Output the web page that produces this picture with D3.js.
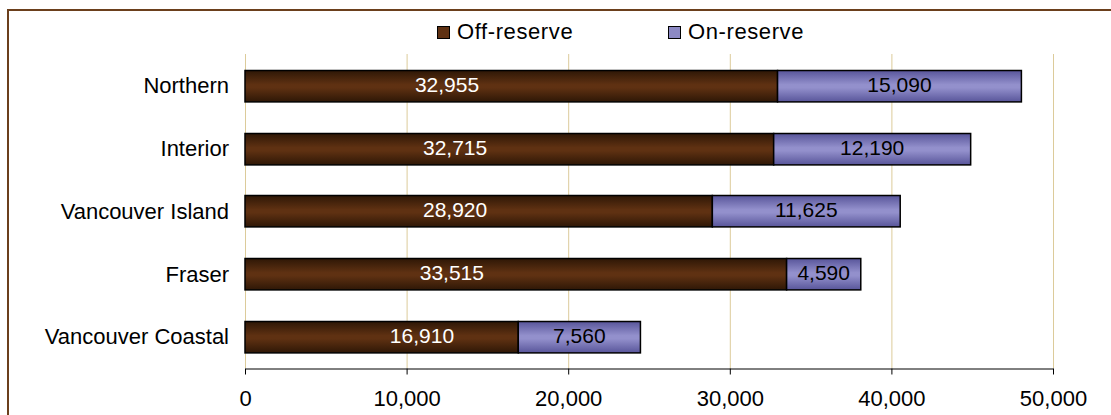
<!DOCTYPE html>
<html><head><meta charset="utf-8">
<script src="https://cdn.jsdelivr.net/npm/d3@7"></script>
<style>html,body{margin:0;padding:0;background:#fff;}svg{display:block;font-family:"Liberation Sans",Arial,sans-serif;}</style>
</head><body>
<svg id="chart" width="1111" height="415"></svg>
<script>
const categories = ["Northern", "Interior", "Vancouver Island", "Fraser", "Vancouver Coastal"];
const offReserve = [32955, 32715, 28920, 33515, 16910];
const onReserve = [15090, 12190, 11625, 4590, 7560];
const seriesNames = ["Off-reserve", "On-reserve"];
const xTicks = [0, 10000, 20000, 30000, 40000, 50000];

const svg = d3.select("#chart");
const m = {left: 245, top: 54};
const x = d3.scaleLinear().domain([0, 50000]).range([m.left, 1053]);
const y = d3.scaleBand().domain(categories).range([m.top, 368]).paddingInner(0.5).paddingOuter(0.25);

const defs = svg.append("defs");
function grad(id, edge, mid) {
  const g = defs.append("linearGradient").attr("id", id).attr("x1", 0).attr("y1", 0).attr("x2", 0).attr("y2", 1);
  g.append("stop").attr("offset", "0%").attr("stop-color", edge);
  g.append("stop").attr("offset", "45%").attr("stop-color", mid);
  g.append("stop").attr("offset", "55%").attr("stop-color", mid);
  g.append("stop").attr("offset", "100%").attr("stop-color", edge);
}
grad("gOff", "#2e1706", "#5f3112");
grad("gOn", "#58559a", "#9390cc");

// outer frame
svg.append("rect").attr("x", 8).attr("y", 10).attr("width", 1120).attr("height", 420)
  .attr("fill", "none").attr("stroke", "#6b3f1c").attr("stroke-width", 2);

// gridlines
svg.append("g").selectAll("line").data(xTicks).join("line")
  .attr("x1", d => x(d) + 0.5).attr("x2", d => x(d) + 0.5)
  .attr("y1", m.top).attr("y2", 368)
  .attr("stroke", "#dccb9a").attr("stroke-width", 1);

// axis
const ax = svg.append("g").attr("transform", "translate(0,368.5)")
  .call(d3.axisBottom(x).tickValues(xTicks).tickFormat(d3.format(",")).tickSize(6).tickSizeOuter(0));
ax.select(".domain").attr("stroke", "#000");
ax.selectAll(".tick line").attr("stroke", "#000");
ax.selectAll(".tick text").attr("font-size", 22).attr("fill", "#000").attr("y", 18).attr("dy", "0.9em")
  .style("font-family", "Liberation Sans, Arial, sans-serif");

// category labels
svg.append("g").selectAll("text").data(categories).join("text")
  .attr("x", 229).attr("y", d => y(d) + y.bandwidth() / 2)
  .attr("dy", "0.35em").attr("text-anchor", "end").attr("font-size", 22).attr("fill", "#000")
  .text(d => d);

const bars = svg.append("g");
const bh = y.bandwidth();
bars.selectAll("rect.off").data(categories).join("rect").attr("class", "off")
  .attr("x", x(0)).attr("y", d => Math.round(y(d)) + 0.5)
  .attr("width", (d, i) => x(offReserve[i]) - x(0)).attr("height", bh)
  .attr("fill", "url(#gOff)").attr("stroke", "#000").attr("stroke-width", 1.5);
bars.selectAll("rect.on").data(categories).join("rect").attr("class", "on")
  .attr("x", (d, i) => x(offReserve[i])).attr("y", d => Math.round(y(d)) + 0.5)
  .attr("width", (d, i) => x(offReserve[i] + onReserve[i]) - x(offReserve[i])).attr("height", bh)
  .attr("fill", "url(#gOn)").attr("stroke", "#000").attr("stroke-width", 1.5);

// labels (off-reserve labels sit left of centre, as in the original)
const offLabelAt = [12500, 13000, 13000, 12800, 10950];
const fmt = d3.format(",");
bars.selectAll("text.off").data(categories).join("text").attr("class", "off")
  .attr("x", (d, i) => x(offLabelAt[i])).attr("y", d => Math.round(y(d)) + bh / 2 - 1.5)
  .attr("dy", "0.35em").attr("text-anchor", "middle").attr("font-size", 21).attr("fill", "#fff")
  .text((d, i) => fmt(offReserve[i]));
bars.selectAll("text.on").data(categories).join("text").attr("class", "on")
  .attr("x", (d, i) => x(offReserve[i] + onReserve[i] / 2)).attr("y", d => Math.round(y(d)) + bh / 2 - 1.5)
  .attr("dy", "0.35em").attr("text-anchor", "middle").attr("font-size", 21).attr("fill", "#000")
  .text((d, i) => fmt(onReserve[i]));

// legend
const legX = [437, 668];
const legFill = ["#5f3112", "#8c89c4"];
const leg = svg.append("g").selectAll("g").data(seriesNames).join("g")
  .attr("transform", (d, i) => `translate(${legX[i]},26)`);
leg.append("rect").attr("x", 0.5).attr("y", 0.5).attr("width", 12).attr("height", 12)
  .attr("fill", (d, i) => legFill[i]).attr("stroke", "#000").attr("stroke-width", 1);
leg.append("text").attr("x", 20).attr("y", 5).attr("dy", "0.35em").attr("font-size", 22)
  .attr("letter-spacing", 0.6).attr("fill", "#000")
  .text(d => d);
</script>
</body></html>
